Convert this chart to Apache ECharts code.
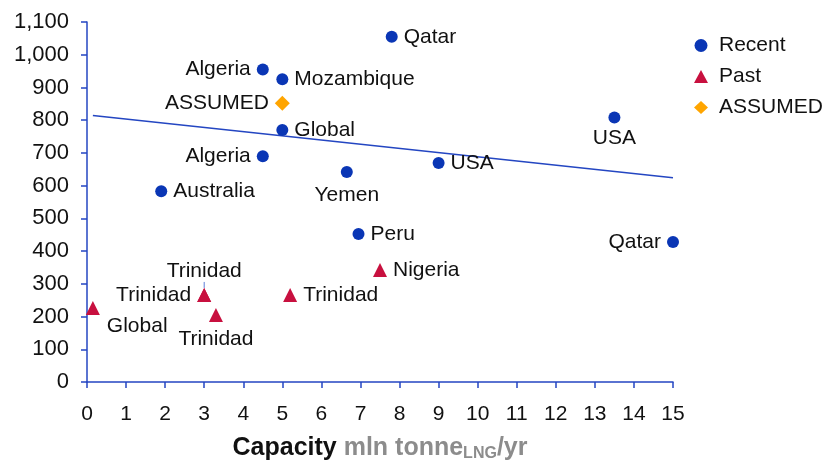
<!DOCTYPE html>
<html><head><meta charset="utf-8">
<script src="https://cdn.jsdelivr.net/npm/echarts@6/dist/echarts.min.js"></script>
<style>html,body{margin:0;padding:0;background:#fff}#c{width:828px;height:462px}</style>
</head><body><div id="c"></div>
<script>
const recentX = [7.8, 4.5, 5.0, 5.0, 4.5, 1.9, 6.65, 9.0, 13.5, 6.95, 15.0];
const recentY = [1055, 955, 925, 770, 690, 583, 642, 669, 808, 452, 428];
const recentNames = ['Qatar','Algeria','Mozambique','Global','Algeria','Australia','Yemen','USA','USA','Peru','Qatar'];
const recentPos = ['right','left','right','right','left','right','bottom','right','bottom','right','left'];

const pastX = [0.15, 3.0, 3.0, 3.3, 5.2, 7.5];
const pastY = [226, 266, 266, 205, 266, 342];
const pastNames = ['Global','Trinidad','Trinidad','Trinidad','Trinidad','Nigeria'];
const pastPos = ['bottom','top','left','bottom','right','right'];

const assumedX = [5.0];
const assumedY = [852];
const assumedNames = ['ASSUMED'];

const trendX = [0.15, 15];
const trendY = [814, 624];

const yTicks = [0,100,200,300,400,500,600,700,800,900,1000,1100];

const axisColor = '#2446c2';
const font = 'Liberation Sans, Arial, sans-serif';
const FS = 21;
const labelBase = {show:true, fontSize:FS, color:'#111', fontFamily:font, distance:6};

function build(xs, ys, names, pos, extra){
  return xs.map((x,i)=>{
    const item = {value:[x, ys[i]], name:names[i], label:Object.assign({}, labelBase, {position:pos[i], formatter:names[i]})};
    if (extra && extra[i]) Object.assign(item, extra[i]);
    return item;
  });
}

const pastExtra = [
  {label:Object.assign({}, labelBase, {position:[21,15], align:'left', verticalAlign:'top', formatter:'Global'})},
  {label:Object.assign({}, labelBase, {position:'top', distance:5, formatter:'Trinidad'}), labelLine:{show:true, lineStyle:{color:'#5a7fd8', width:1}}},
  {label:Object.assign({}, labelBase, {position:'left', distance:6, offset:[0,2], formatter:'Trinidad'})},
  {label:Object.assign({}, labelBase, {position:'bottom', distance:7, formatter:'Trinidad'})},
  null, null
];
const recentExtra = [null,null,null,null,null,null,
  {label:Object.assign({}, labelBase, {position:'bottom', distance:7, formatter:'Yemen'})},
  null,
  {label:Object.assign({}, labelBase, {position:'bottom', distance:4, formatter:'USA'})},
  null,null];

const chart = echarts.init(document.getElementById('c'), null, {renderer:'canvas'});
chart.setOption({
  animation:false,
  textStyle:{fontFamily:font},
  grid:{left:87, right:155, top:22, bottom:80, containLabel:false, outerBoundsMode:'none'},
  legend:{
    orient:'vertical', left:689, top:30, itemGap:10, itemWidth:14, itemHeight:13,
    data:[{name:'Recent', icon:'circle'},{name:'Past', icon:'triangle'},{name:'ASSUMED', icon:'diamond'}],
    textStyle:{fontSize:FS, color:'#111', fontFamily:font, padding:[0,0,0,6]}
  },
  xAxis:{
    type:'value', min:0, max:15, interval:1,
    axisLine:{show:true, onZero:false, lineStyle:{color:axisColor, width:1.5}},
    axisTick:{show:true, length:6, lineStyle:{color:axisColor, width:1.5}},
    axisLabel:{fontSize:FS, color:'#111', margin:22, fontFamily:font},
    splitLine:{show:false},
    name:'{a|Capacity }{b|mln tonne}{s|LNG}{b|/yr}',
    nameLocation:'middle', nameGap:52,
    nameTextStyle:{rich:{
      a:{fontSize:25, fontWeight:'bold', color:'#111', fontFamily:font},
      b:{fontSize:25, fontWeight:'bold', color:'#8c8c8c', fontFamily:font},
      s:{fontSize:16, fontWeight:'bold', color:'#8c8c8c', fontFamily:font, padding:[12,0,0,0]}
    }}
  },
  yAxis:{
    type:'value', min:0, max:1100, interval:100,
    axisLine:{show:true, lineStyle:{color:axisColor, width:1.5}},
    axisTick:{show:true, length:6, lineStyle:{color:axisColor, width:1.5}},
    axisLabel:{fontSize:22, color:'#111', margin:18, fontFamily:font,
      formatter:v=> yTicks.includes(v) ? v.toLocaleString('en-US') : ''},
    splitLine:{show:false}
  },
  series:[
    {name:'Trend', type:'line', data:trendX.map((x,i)=>[x,trendY[i]]), symbol:'none',
      lineStyle:{color:axisColor, width:1.5}, silent:true, z:1},
    {name:'Recent', type:'scatter', symbol:'circle', symbolSize:12,
      itemStyle:{color:'#0a36b5', opacity:1}, data:build(recentX, recentY, recentNames, recentPos, recentExtra), z:3},
    {name:'Past', type:'scatter', symbol:'triangle', symbolSize:14,
      itemStyle:{color:'#c8103f', opacity:1}, data:build(pastX, pastY, pastNames, pastPos, pastExtra), z:3,
      labelLayout:function(p){ return p.dataIndex===1 ? {dy:-1} : {}; }},
    {name:'ASSUMED', type:'scatter', symbol:'diamond', symbolSize:15,
      itemStyle:{color:'#ffa500', opacity:1}, data:build(assumedX, assumedY, assumedNames, ['left']), z:3}
  ]
});
</script></body></html>
